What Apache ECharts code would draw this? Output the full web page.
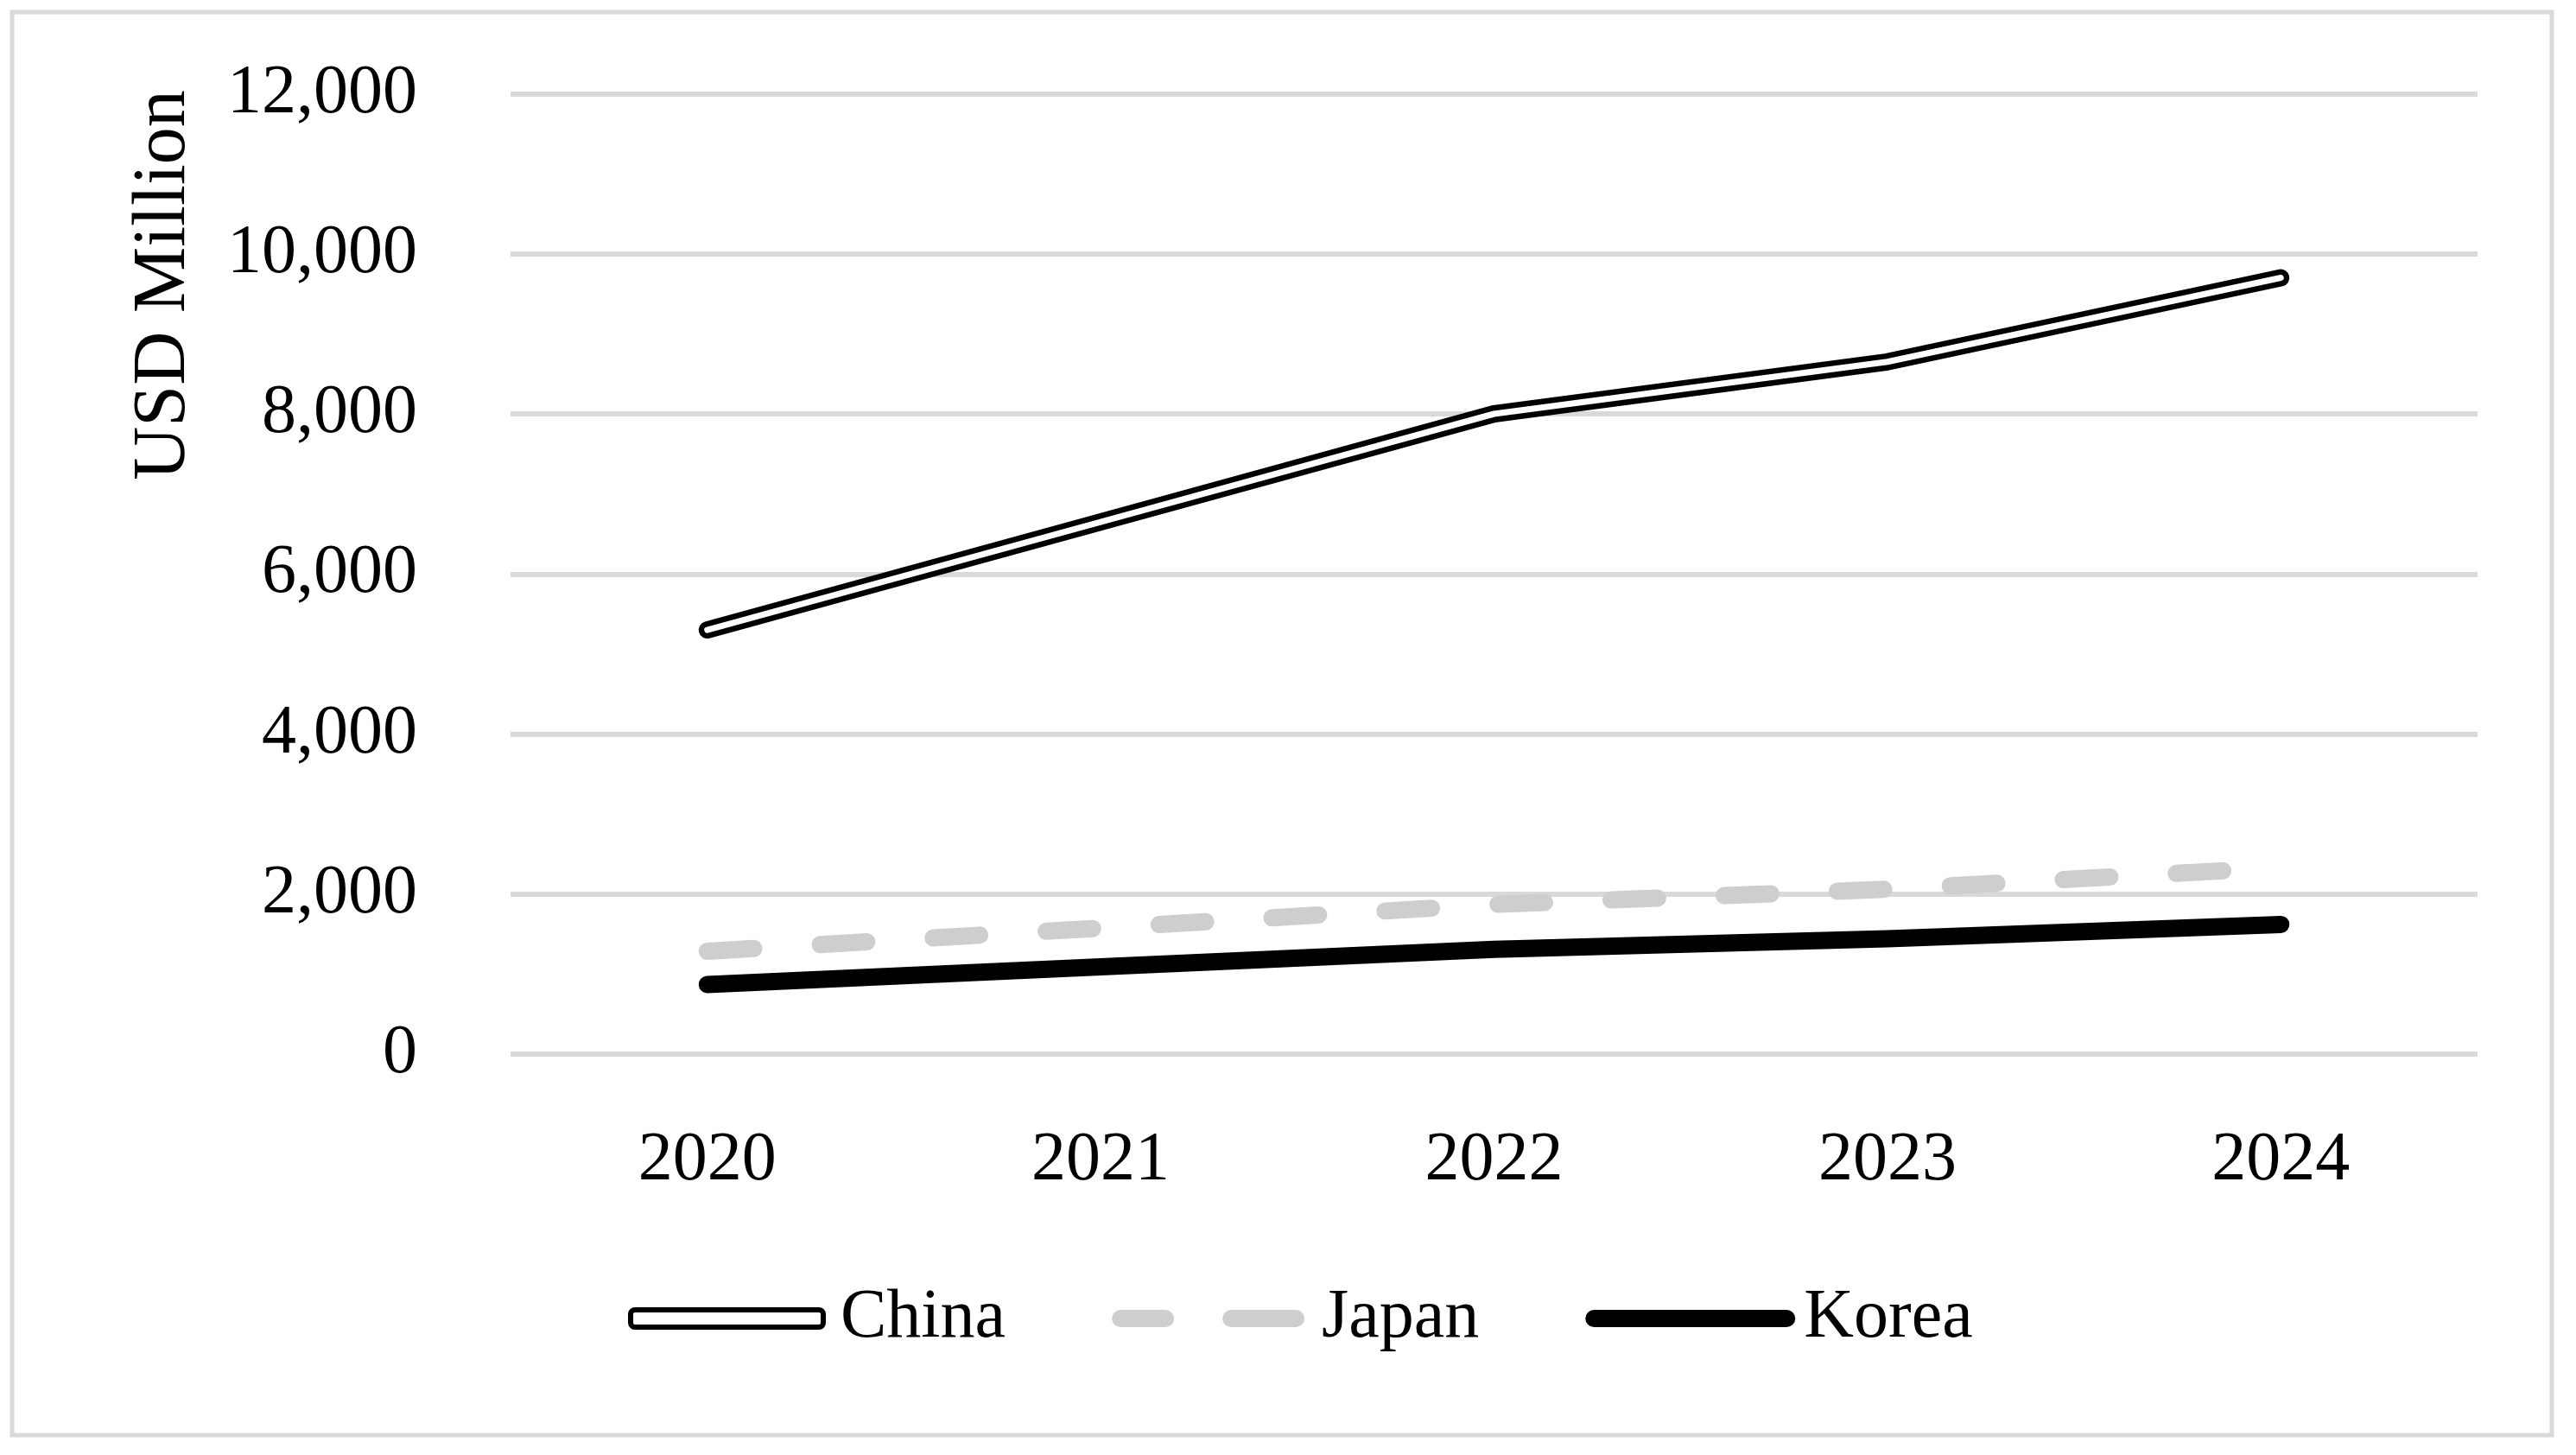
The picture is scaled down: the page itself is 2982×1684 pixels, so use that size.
<!DOCTYPE html>
<html>
<head>
<meta charset="utf-8">
<script src="https://cdn.jsdelivr.net/npm/echarts@6/dist/echarts.min.js"></script>
<style>
html,body{margin:0;padding:0;background:#fff;}
#chart{width:2982px;height:1684px;}
</style>
</head>
<body>
<div id="chart"></div>
<script>
const years = ['2020', '2021', '2022', '2023', '2024'];
const china = [5300, 6650, 8000, 8650, 9700];
const japan = [1285, 1575, 1870, 2060, 2330];
const korea = [870, 1090, 1310, 1440, 1620];
const yTicks = [0, 2000, 4000, 6000, 8000, 10000, 12000];
const yAxisTitle = 'USD Million';

const FONT = '"Liberation Serif", "Times New Roman", serif';
const JAPAN_ICON = 'path://M10,0 L62,0 A10,10 0 0 1 62,20 L10,20 A10,10 0 0 1 10,0 Z ' +
                   'M138,0 L213,0 A10,10 0 0 1 213,20 L138,20 A10,10 0 0 1 138,0 Z';
const chart = echarts.init(document.getElementById('chart'), null, {renderer: 'canvas'});

chart.setOption({
  backgroundColor: '#fff',
  animation: false,
  grid: {left: 591, right: 114, top: 108.5, bottom: 464, containLabel: false},
  xAxis: {
    type: 'category',
    data: years,
    boundaryGap: true,
    axisLine: {show: false},
    axisTick: {show: false},
    axisLabel: {color: '#000', fontFamily: FONT, fontSize: 80, margin: 84}
  },
  yAxis: {
    type: 'value',
    min: yTicks[0],
    max: yTicks[yTicks.length - 1],
    interval: yTicks[1] - yTicks[0],
    axisLine: {show: false},
    axisTick: {show: false},
    splitLine: {lineStyle: {color: '#d9d9d9', width: 6}},
    axisLabel: {
      color: '#000', fontFamily: FONT, fontSize: 80, margin: 108,
      formatter: v => v.toLocaleString('en-US')
    }
  },
  legend: {
    left: 722,
    top: 1481,
    itemWidth: 223,
    itemHeight: 20,
    itemGap: 123,
    textStyle: {color: '#000', fontFamily: FONT, fontSize: 80, padding: [0, 0, 0, 15]},
    lineStyle: {width: 'inherit'},
    data: [
      {name: 'China', icon: 'roundRect', itemStyle: {color: '#fff', borderColor: '#000', borderWidth: 6}},
      {name: 'Japan', icon: JAPAN_ICON, itemStyle: {color: '#cfcdcd', borderWidth: 0}},
      {name: 'Korea', icon: 'inherit'}
    ]
  },
  graphic: [
    {
      type: 'rect', silent: true, z: -1,
      shape: {x: 14, y: 14, width: 2940, height: 1647},
      style: {fill: 'none', stroke: '#d9d9d9', lineWidth: 5}
    },
    {
      type: 'text', x: 190, y: 330, rotation: Math.PI / 2,
      style: {text: yAxisTitle, fill: '#000', font: '86px ' + FONT, align: 'center', verticalAlign: 'middle'}
    }
  ],
  series: [
    {
      name: 'China', type: 'line', data: china, symbol: 'none', z: 3,
      lineStyle: {color: '#000', width: 20, cap: 'round', join: 'round'},
      itemStyle: {color: '#000'}
    },
    {
      name: 'China-inner', type: 'line', data: china, symbol: 'none', z: 4, silent: true,
      lineStyle: {color: '#fff', width: 7, cap: 'round', join: 'round'}
    },
    {
      name: 'Japan', type: 'line', data: japan, symbol: 'none', z: 2,
      lineStyle: {color: '#cfcdcd', width: 20, type: [54, 77], cap: 'round', join: 'round'},
      itemStyle: {color: '#cfcdcd'}
    },
    {
      name: 'Korea', type: 'line', data: korea, symbol: 'none', z: 2,
      lineStyle: {color: '#000', width: 20, cap: 'round', join: 'round'},
      itemStyle: {color: '#000'}
    }
  ]
});
</script>
</body>
</html>
